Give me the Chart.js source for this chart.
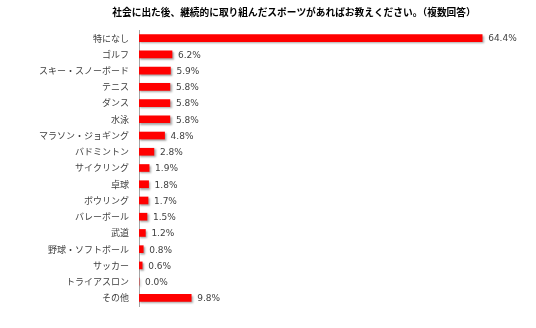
<!DOCTYPE html>
<html>
<head>
<meta charset="utf-8">
<script src="https://cdn.jsdelivr.net/npm/chart.js@4"></script>
<style>
  html, body { margin: 0; padding: 0; background: #fff; }
  #wrap { width: 536px; height: 328px; position: relative; }
</style>
</head>
<body>
<div id="wrap"><canvas id="c"></canvas></div>
<script>
const titleText = "社会に出た後、継続的に取り組んだスポーツがあればお教えください。（複数回答）";
const sports = ["特になし", "ゴルフ", "スキー・スノーボード", "テニス", "ダンス", "水泳",
  "マラソン・ジョギング", "バドミントン", "サイクリング", "卓球", "ボウリング",
  "バレーボール", "武道", "野球・ソフトボール", "サッカー", "トライアスロン", "その他"];
const shares = [64.4, 6.2, 5.9, 5.8, 5.8, 5.8, 4.8, 2.8, 1.9, 1.8, 1.7, 1.5, 1.2, 0.8, 0.6, 0.0, 9.8];

const JP = '"Noto Sans CJK JP", "Noto Sans", sans-serif';

/* drop shadow under the bars */
const barShadow = {
  id: "barShadow",
  beforeDatasetsDraw(chart) {
    const ctx = chart.ctx;
    ctx.save();
    ctx.shadowColor = "rgba(0,0,0,0.35)";
    ctx.shadowBlur = 2;
    ctx.shadowOffsetX = 1.5;
    ctx.shadowOffsetY = 1.5;
  },
  afterDatasetsDraw(chart) {
    chart.ctx.restore();
  }
};

/* percent text at the end of each bar, and the title */
const valueLabels = {
  id: "valueLabels",
  afterDatasetsDraw(chart) {
    const ctx = chart.ctx;
    const meta = chart.getDatasetMeta(0);
    ctx.save();
    ctx.font = "9px 'DejaVu Sans', sans-serif";
    ctx.fillStyle = "#404040";
    ctx.textAlign = "left";
    ctx.textBaseline = "middle";
    meta.data.forEach((bar, i) => {
      ctx.fillText(shares[i].toFixed(1) + "%", bar.x + 6, bar.y + 1);
    });
    ctx.font = "bold 9.7px " + JP;
    ctx.fillStyle = "#000";
    ctx.textAlign = "center";
    ctx.fillText(titleText, 294, 12);
    ctx.restore();
  }
};

new Chart(document.getElementById("c"), {
  type: "bar",
  data: {
    labels: sports,
    datasets: [{
      data: shares,
      backgroundColor: "#ff0000",
      barThickness: 7,
      borderWidth: 0
    }]
  },
  options: {
    indexAxis: "y",
    responsive: true,
    maintainAspectRatio: false,
    animation: false,
    layout: { padding: { top: 30, right: 24, bottom: 22, left: 0 } },
    scales: {
      x: {
        min: 0,
        max: 70,
        display: false
      },
      y: {
        afterFit(scale) { scale.width = 139; },
        grid: { display: false, drawTicks: false },
        border: { display: true, color: "#a6a6a6", width: 1 },
        ticks: {
          padding: 10,
          color: "#404040",
          font: { family: JP, size: 9 }
        }
      }
    },
    plugins: {
      legend: { display: false },
      tooltip: { enabled: false },
      title: { display: false }
    }
  },
  plugins: [barShadow, valueLabels]
});
</script>
</body>
</html>
